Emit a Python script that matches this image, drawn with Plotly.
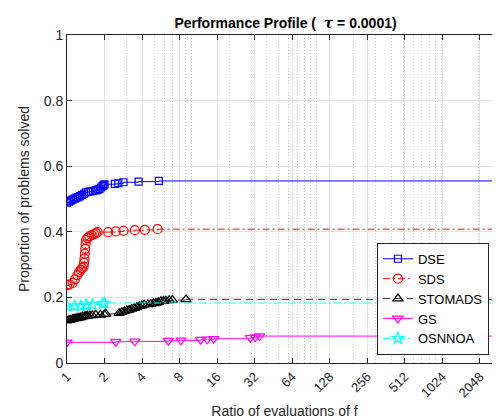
import plotly.graph_objects as go
import math

# ---------------- data ----------------
dse_x = [1.00, 1.04, 1.07, 1.11, 1.15, 1.19, 1.23, 1.27, 1.32, 1.37, 1.42, 1.48, 1.55,
         1.62, 1.70, 1.76, 1.82, 1.88, 1.93, 1.97, 2.00, 2.42, 2.58, 2.84, 3.75, 5.46]
dse_y = [0.489, 0.492, 0.495, 0.498, 0.501, 0.504, 0.506, 0.509, 0.512, 0.516, 0.520, 0.522, 0.523,
         0.525, 0.526, 0.528, 0.531, 0.535, 0.539, 0.542, 0.545, 0.546, 0.548, 0.551, 0.553, 0.555]

sds_x = [1.00, 1.05, 1.11, 1.16, 1.21, 1.25, 1.29, 1.32, 1.36, 1.37, 1.38, 1.39, 1.40, 1.41,
         1.42, 1.46, 1.51, 1.58, 1.65, 1.71, 1.76, 2.14, 2.46, 2.84, 3.50, 4.21, 5.33]
sds_y = [0.237, 0.240, 0.244, 0.255, 0.268, 0.277, 0.284, 0.289, 0.294, 0.305, 0.318, 0.333, 0.348, 0.362,
         0.375, 0.381, 0.386, 0.390, 0.393, 0.396, 0.399, 0.399, 0.401, 0.403, 0.405, 0.406, 0.408]

sto_x = [1.00, 1.04, 1.07, 1.11, 1.14, 1.18, 1.21, 1.25, 1.29, 1.33, 1.38, 1.42, 1.46, 1.53, 1.60,
         1.70, 1.85, 1.99, 2.05, 2.62, 2.75, 2.88, 3.02, 3.15, 3.30, 3.46, 3.63, 3.80, 3.98, 4.16,
         4.45, 4.70, 4.95, 5.17, 5.40, 5.66, 5.93, 6.20, 6.60, 7.00, 9.00]
sto_y = [0.129, 0.131, 0.132, 0.134, 0.135, 0.136, 0.137, 0.138, 0.139, 0.141, 0.142, 0.143, 0.144, 0.145, 0.145,
         0.147, 0.147, 0.148, 0.150, 0.152, 0.155, 0.157, 0.160, 0.162, 0.165, 0.167, 0.170, 0.173, 0.175, 0.178,
         0.179, 0.180, 0.182, 0.183, 0.185, 0.188, 0.189, 0.190, 0.191, 0.192, 0.194]

gs_x = [1.00, 2.46, 3.50, 6.50, 8.20, 11.8, 13.3, 15.0, 29.5, 32.3, 35.0]
gs_y = [0.063, 0.065, 0.066, 0.068, 0.069, 0.071, 0.072, 0.074, 0.077, 0.079, 0.082]

osn_x = [1.00, 1.15, 1.29, 1.42, 1.60, 1.93, 2.00, 2950.0]
osn_y = [0.174, 0.174, 0.174, 0.177, 0.178, 0.181, 0.183, 0.183]

x_max = 3080.0
tick_vals = [1, 2, 4, 8, 16, 32, 64, 128, 256, 512, 1024, 2048]
tick_text = ["1", "2", "4", "8", "16", "32", "64", "128", "256", "512", "1024", "2048"]
y_ticks = [0, 0.2, 0.4, 0.6, 0.8, 1]
y_text = ["0", "0.2", "0.4", "0.6", "0.8", "1"]
minor_vals = [m * 10 ** k for k in range(0, 4) for m in range(2, 11) if m * 10 ** k <= x_max]

DASHDOT = "7px,3px,2px,3px"
DASH = "7px,5px"
series = [
    ("DSE", dse_x, dse_y, "#0000ff", "#0000ff", "solid", "square-open", 7),
    ("SDS", sds_x, sds_y, "#ff0000", "#ff0000", DASHDOT, "circle-open", 9),
    ("STOMADS", sto_x, sto_y, "#000000", "#333333", DASH, "triangle-up-open", 9),
    ("GS", gs_x, gs_y, "#ff00ff", "#ff00ff", "solid", "triangle-down-open", 9),
    ("OSNNOA", osn_x, osn_y, "#00ffff", "#00ffff", DASHDOT, "star-open", 9),
]

FONT = "Liberation Sans, Arial, Helvetica, sans-serif"

fig = go.Figure()
# extensions of each profile to the right edge (no legend entries)
for name, xs, ys, mcol, lcol, dash, sym, msz in series:
    fig.add_trace(go.Scatter(
        x=[xs[-1], x_max], y=[ys[-1], ys[-1]], mode="lines",
        line=dict(color=lcol, width=1, dash=dash), showlegend=False,
        hoverinfo="skip"))
for name, xs, ys, mcol, lcol, dash, sym, msz in series:
    fig.add_trace(go.Scatter(
        x=xs, y=ys, name=name, mode="lines+markers",
        line=dict(color=lcol, width=1, dash=dash, shape="hv"),
        marker=dict(symbol=sym, size=msz, color=mcol, line=dict(color=mcol, width=1.2))))

fig.update_layout(
    width=500, height=418,
    margin=dict(l=59, r=6, t=27, b=63),
    paper_bgcolor="white", plot_bgcolor="white",
    font=dict(family=FONT, size=13, color="#262626"),
    title=dict(text="<b>Performance Profile (  <span style='font-family:DejaVu Serif'><i>τ</i></span> = 0.0001)</b>",
               x=0.555, xanchor="center", y=0.965, yanchor="middle",
               font=dict(size=14, color="#000000")),
    showlegend=True,
    legend=dict(x=0.97, y=0.025, xanchor="right", yanchor="bottom",
                bgcolor="white", bordercolor="#262626", borderwidth=1,
                font=dict(size=13, color="#000000"), tracegroupgap=0,
                itemwidth=30),
)

fig.update_xaxes(
    type="log", range=[0, math.log10(x_max)],
    tickmode="array", tickvals=tick_vals, ticktext=tick_text, tickangle=-45,
    ticks="inside", ticklen=5, tickcolor="#262626",
    showline=True, linecolor="#262626", linewidth=1, mirror="ticks",
    showgrid=True, gridcolor="#e3e3e3", gridwidth=1,
    minor=dict(tickmode="array", tickvals=minor_vals, showgrid=True,
               griddash="1px,2px", gridcolor="#c8c8c8", gridwidth=1, ticks=""),
    zeroline=False,
    tickfont=dict(size=13, color="#262626"),
    title=dict(text="Ratio of evaluations of f", font=dict(size=14, color="#262626"), standoff=6),
)
fig.update_yaxes(
    range=[0, 1], tickmode="array", tickvals=y_ticks, ticktext=y_text,
    ticks="inside", ticklen=5, tickcolor="#262626",
    showline=True, linecolor="#262626", linewidth=1, mirror="ticks",
    showgrid=True, gridcolor="#e3e3e3", gridwidth=1, zeroline=False,
    tickfont=dict(size=14, color="#262626"),
    title=dict(text="Proportion of problems solved", font=dict(size=14, color="#262626"), standoff=10),
)

fig.write_html("out.html")
